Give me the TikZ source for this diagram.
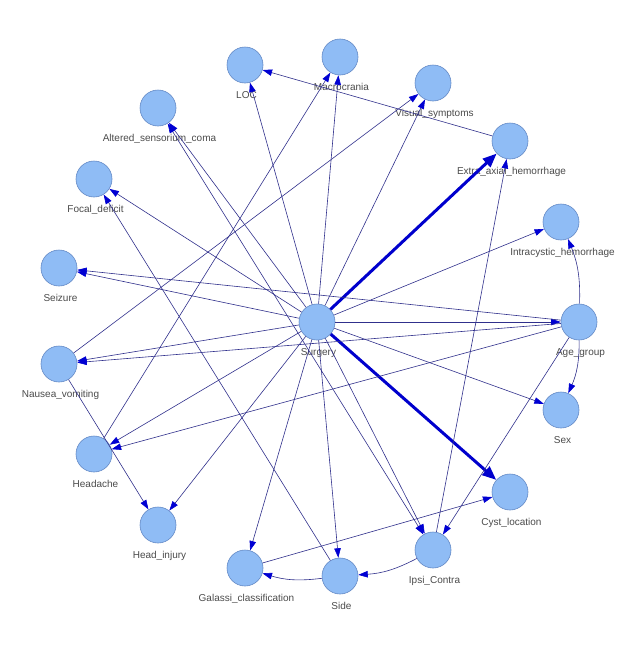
\documentclass[tikz,border=0pt]{standalone}
\usepackage{fontspec}
\setmainfont{Liberation Sans}
\usetikzlibrary{arrows.meta}
\definecolor{nodefill}{RGB}{143,188,245}
\definecolor{nodeline}{RGB}{100,138,198}
\definecolor{edgecol}{RGB}{48,48,140}
\definecolor{headcol}{RGB}{0,0,210}
\definecolor{heavycol}{RGB}{0,0,205}
\definecolor{txt}{RGB}{75,75,75}
\begin{document}
\begin{tikzpicture}[x=1pt,y=-1pt,
  vtx/.style={circle,minimum size=36pt,inner sep=0pt,fill=nodefill,draw=nodeline,line width=0.6pt},
  lbl/.style={font=\fontsize{10}{12}\selectfont,text=txt,inner sep=0pt,text height=7pt,text depth=2pt,label distance=7.5pt,xshift=1.5pt},
  edge/.style={draw=edgecol,line width=0.6pt,-{Triangle[length=9.5pt,width=6.5pt,color=headcol]}},
  edgeboth/.style={draw=edgecol,line width=0.6pt,{Triangle[length=9.5pt,width=6.5pt,color=headcol]}-{Triangle[length=9.5pt,width=6.5pt,color=headcol]}},
  heavy/.style={draw=heavycol,line width=3pt,-{Triangle[length=14pt,width=11pt,color=heavycol]}}
]
\useasboundingbox (0,0) rectangle (636,648);
\fill[white] (0,0) rectangle (636,648);

\node[vtx,label={[lbl]below:LOC}] (LOC) at (245,65) {};
\node[vtx,label={[lbl]below:Macrocrania}] (Macro) at (340,57) {};
\node[vtx,label={[lbl]below:Visual\_symptoms}] (Visual) at (433,83) {};
\node[vtx,label={[lbl]below:Altered\_sensorium\_coma}] (Altered) at (158,108) {};
\node[vtx,label={[lbl]below:Extra\_axial\_hemorrhage}] (Extra) at (510,141) {};
\node[vtx,label={[lbl]below:Focal\_deficit}] (Focal) at (94,179) {};
\node[vtx,label={[lbl]below:Intracystic\_hemorrhage}] (Intra) at (561,222) {};
\node[vtx,label={[lbl]below:Seizure}] (Seizure) at (59,268) {};
\node[vtx,label={[lbl]below:Surgery}] (Surgery) at (317,322) {};
\node[vtx,label={[lbl]below:Age\_group}] (Age) at (579,322) {};
\node[vtx,label={[lbl]below:Nausea\_vomiting}] (Nausea) at (59,364) {};
\node[vtx,label={[lbl]below:Sex}] (Sex) at (561,410) {};
\node[vtx,label={[lbl]below:Headache}] (Headache) at (94,454) {};
\node[vtx,label={[lbl]below:Cyst\_location}] (Cyst) at (510,492) {};
\node[vtx,label={[lbl]below:Head\_injury}] (HeadInj) at (158,525) {};
\node[vtx,label={[lbl]below:Ipsi\_Contra}] (Ipsi) at (433,550) {};
\node[vtx,label={[lbl]below:Galassi\_classification}] (Galassi) at (245,568) {};
\node[vtx,label={[lbl]below:Side}] (Side) at (340,576) {};

% edges from Surgery
\draw[edge] (Surgery) -- (LOC);
\draw[edge] (Surgery) -- (Macro);
\draw[edge] (Surgery) -- (Visual);
\draw[edge] (Surgery) -- (Intra);
\draw[edge] (Surgery) -- (Age);
\draw[edge] (Surgery) -- (Sex);
\draw[edge] (Surgery) -- (Ipsi);
\draw[edge] (Surgery) -- (Side);
\draw[edge] (Surgery) -- (Galassi);
\draw[edge] (Surgery) -- (HeadInj);
\draw[edge] (Surgery) -- (Headache);
\draw[edge] (Surgery) -- (Nausea);
\draw[edge] (Surgery) -- (Seizure);
\draw[edge] (Surgery) -- (Focal);
\draw[edge] (Surgery) -- (Altered);
\draw[heavy] (Surgery) -- (Extra);
\draw[heavy] (Surgery) -- (Cyst);

% other edges
\draw[edge] (Extra) -- (LOC);
\draw[edge] (Headache) -- (Macro);
\draw[edge] (Nausea) -- (Visual);
\draw[edge] (Ipsi) -- (Extra);
\draw[edge] (Age) to[bend right=12] (Intra);
\draw[edge] (Age) to[bend left=12] (Sex);
\draw[edge] (Age) -- (Seizure);
\draw[edge] (Age) -- (Nausea);
\draw[edge] (Age) -- (Headache);
\draw[edge] (Age) -- (Ipsi);
\draw[edge] (Nausea) -- (HeadInj);
\draw[edge] (Side) to[bend left=12] (Galassi);
\draw[edge] (Ipsi) to[bend left=12] (Side);
\draw[edge] (Galassi) -- (Cyst);
\draw[edge] (Side) -- (Focal);
\draw[edgeboth] (Altered) -- (Ipsi);
\end{tikzpicture}
\end{document}
